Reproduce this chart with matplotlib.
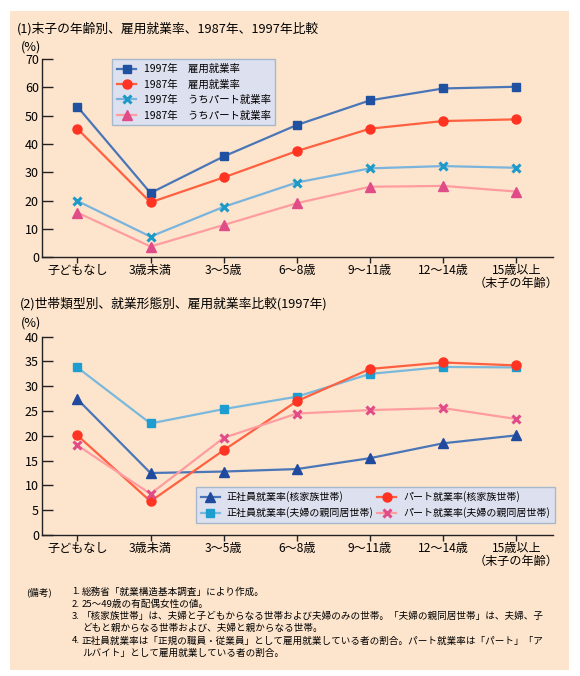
import matplotlib.pyplot as plt
from matplotlib.patches import Rectangle

plt.rcParams['font.family'] = ['Noto Sans CJK JP', 'DejaVu Sans']

# data
ages = ['子どもなし', '3歳未満', '3〜5歳', '6〜8歳', '9〜11歳', '12〜14歳', '15歳以上\n（末子の年齢）']

emp_1997 = [53.2, 22.7, 35.6, 46.7, 55.4, 59.6, 60.2]
emp_1987 = [45.4, 19.4, 28.2, 37.5, 45.4, 48.1, 48.7]
part_1997 = [19.9, 7.3, 17.8, 26.4, 31.4, 32.2, 31.6]
part_1987 = [15.8, 3.8, 11.4, 19.1, 24.9, 25.2, 23.2]

reg_nuclear = [27.4, 12.5, 12.8, 13.3, 15.5, 18.5, 20.1]
reg_parents = [33.8, 22.5, 25.4, 27.9, 32.5, 33.9, 33.8]
pt_nuclear = [20.1, 6.8, 17.1, 27.0, 33.5, 34.8, 34.2]
pt_parents = [18.1, 8.3, 19.6, 24.5, 25.2, 25.6, 23.4]

title1 = '(1)末子の年齢別、雇用就業率、1987年、1997年比較'
title2 = '(2)世帯類型別、就業形態別、雇用就業率比較(1997年)'

notes = [
    ('(備考)', '1.', '総務省「就業構造基本調査」により作成。'),
    ('', '2.', '25〜49歳の有配偶女性の値。'),
    ('', '3.', '「核家族世帯」は、夫婦と子どもからなる世帯および夫婦のみの世帯。「夫婦の親同居世帯」は、夫婦、子'),
    ('', '', 'どもと親からなる世帯および、夫婦と親からなる世帯。'),
    ('', '4.', '正社員就業率は「正規の職員・従業員」として雇用就業している者の割合。パート就業率は「パート」「ア'),
    ('', '', 'ルバイト」として雇用就業している者の割合。'),
]

W, H = 580, 676
fig = plt.figure(figsize=(W / 100, H / 100), dpi=100)
fig.patch.set_facecolor('white')
fig.patches.append(Rectangle((10 / W, 1 - 670 / H), 559 / W, 659 / H,
                             transform=fig.transFigure, facecolor='#fde5cd',
                             edgecolor='none', zorder=-10))

x = list(range(len(ages)))


def style_axes(ax, ymax, step):
    ax.set_facecolor('none')
    for s in ['top', 'right']:
        ax.spines[s].set_visible(False)
    for s in ['left', 'bottom']:
        ax.spines[s].set_color('#222222')
        ax.spines[s].set_linewidth(1)
    ax.set_xlim(-0.487, 6.505)
    ax.set_ylim(0, ymax)
    ax.set_yticks(range(0, ymax + 1, step))
    ax.set_xticks(x)
    ax.set_xticklabels(ages, fontsize=8.7, linespacing=1.0)
    ax.tick_params(axis='y', direction='in', length=8, width=1, labelsize=9,
                   pad=2, color='#222222')
    ax.tick_params(axis='x', direction='out', length=4, width=1, pad=1,
                   color='#222222')


leg_kw = dict(frameon=True, fancybox=False, facecolor='#dde0ef',
              edgecolor='#a8b8cc', framealpha=1, handlelength=1.9,
              handletextpad=0.7, borderaxespad=0, borderpad=0.45,
              labelspacing=0.5)

# (1)
ax1 = fig.add_axes([41.7 / W, 1 - 257.3 / H, 511.6 / W, 198.3 / H])
style_axes(ax1, 70, 10)
ax1.plot(x, emp_1997, color='#4a76b8', lw=1.6, marker='s', ms=6,
         mfc='#2050a0', mec='#2050a0', label='1997年　雇用就業率')
ax1.plot(x, emp_1987, color='#ff6040', lw=1.6, marker='o', ms=6.5,
         mfc='#ff3322', mec='#ff3322', label='1987年　雇用就業率')
ax1.plot(x, part_1997, color='#7ab4dc', lw=1.6, marker='x', ms=5.5, mew=2.2,
         mfc='#1e9ac8', mec='#1e9ac8', label='1997年　うちパート就業率')
ax1.plot(x, part_1987, color='#ff9ca0', lw=1.6, marker='^', ms=6.5,
         mfc='#e04c88', mec='#e04c88', label='1987年　うちパート就業率')
ax1.legend(loc='upper left', bbox_to_anchor=(112 / W, 1 - 59.3 / H),
           bbox_transform=fig.transFigure, fontsize=7.5, **leg_kw)

# (2)
ax2 = fig.add_axes([41.7 / W, 1 - 535 / H, 511.6 / W, 198.3 / H])
style_axes(ax2, 40, 5)
ax2.plot(x, reg_nuclear, color='#4a76b8', lw=1.6, marker='^', ms=6.5,
         mfc='#1f4a9e', mec='#1f4a9e', label='正社員就業率(核家族世帯)')
ax2.plot(x, reg_parents, color='#7ab8dc', lw=1.6, marker='s', ms=6,
         mfc='#1e9ed0', mec='#1e9ed0', label='正社員就業率(夫婦の親同居世帯)')
ax2.plot(x, pt_nuclear, color='#ff6040', lw=1.6, marker='o', ms=6.5,
         mfc='#ff3322', mec='#ff3322', label='パート就業率(核家族世帯)')
ax2.plot(x, pt_parents, color='#ff9ca0', lw=1.6, marker='x', ms=5.5, mew=2.2,
         mfc='#e04c88', mec='#e04c88', label='パート就業率(夫婦の親同居世帯)')
ax2.legend(loc='upper left', bbox_to_anchor=(196 / W, 1 - 487 / H),
           bbox_transform=fig.transFigure, ncol=2, columnspacing=0.4,
           fontsize=7.2, **leg_kw)

# titles and unit labels
fig.text(17 / W, 1 - 29 / H, title1, fontsize=9.2, va='center')
fig.text(21 / W, 1 - 47 / H, '(%)', fontsize=9.2, va='center')
fig.text(20 / W, 1 - 304 / H, title2, fontsize=9.2, va='center')
fig.text(21 / W, 1 - 323 / H, '(%)', fontsize=9.2, va='center')

# notes
y0 = 592
for i, (head, num, body) in enumerate(notes):
    yy = 1 - (y0 + i * 12.2) / H
    if head:
        fig.text(26 / W, yy, head, fontsize=6.9, va='center')
    if num:
        fig.text(72 / W, yy, num, fontsize=6.9, va='center')
    fig.text(82 / W, yy, body, fontsize=6.9, va='center')

plt.savefig('out.png', dpi=100)
